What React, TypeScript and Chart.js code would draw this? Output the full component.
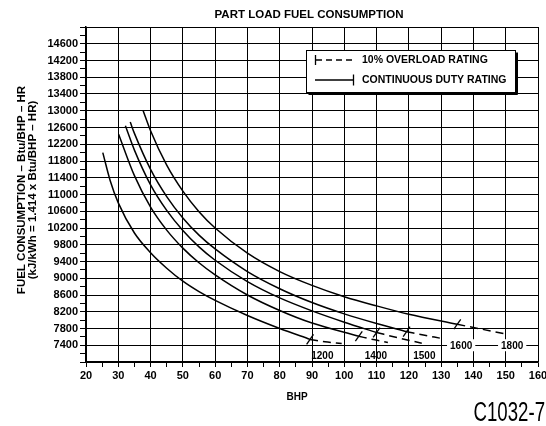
import React, { useEffect, useRef } from "react";
import { Chart, registerables } from "chart.js";
Chart.register(...registerables);

const FONT = '"Liberation Sans", Arial, Helvetica, sans-serif';

const titleText = "PART LOAD FUEL CONSUMPTION";
const yTitle1 = "FUEL CONSUMPTION \u2013 Btu/BHP \u2013 HR";
const yTitle2 = "(kJ/kWh = 1.414 x Btu/BHP \u2013 HR)";
const xTitle = "BHP";
const figureCode = "C1032-7";
const legendOverload = "10% OVERLOAD RATING";
const legendContinuous = "CONTINUOUS DUTY RATING";

// x axis
const xMin = 20;
const xMax = 160;
// y axis
const yMin = 7000;
const yMax = 15000;

// RPM curves: continuous duty (solid) part
const bhp1200 = [25.2, 27.5, 30, 35, 40, 45, 50, 55, 60, 70, 80, 89.4];
const fuel1200 = [12000, 11330, 10800, 10080, 9610, 9240, 8930, 8680, 8470, 8110, 7800, 7540];
const bhp1400 = [30.1, 35, 40, 45, 50, 55, 60, 70, 80, 90, 104.5];
const fuel1400 = [12440, 11450, 10700, 10150, 9720, 9370, 9080, 8600, 8230, 7930, 7615];
const bhp1500 = [32.2, 35, 40, 45, 50, 55, 60, 70, 80, 90, 100, 110];
const fuel1500 = [12640, 12060, 11230, 10620, 10140, 9750, 9430, 8920, 8530, 8220, 7950, 7705];
const bhp1600 = [33.7, 35, 40, 45, 50, 55, 60, 70, 80, 90, 100, 110, 119.3];
const fuel1600 = [12730, 12460, 11600, 10950, 10440, 10030, 9700, 9160, 8750, 8420, 8150, 7920, 7725];
const bhp1800 = [37.7, 40, 45, 50, 55, 60, 70, 80, 90, 100, 110, 120, 135];
const fuel1800 = [13000, 12521, 11700, 11080, 10590, 10200, 9600, 9160, 8830, 8560, 8340, 8140, 7900];

// 10% overload (dashed) part
const ovBhp1200 = [89.4, 94, 99.2];
const ovFuel1200 = [7540, 7485, 7440];
const ovBhp1400 = [104.5, 109, 113.5];
const ovFuel1400 = [7615, 7535, 7467];
const ovBhp1500 = [110, 117, 124];
const ovFuel1500 = [7705, 7570, 7450];
const ovBhp1600 = [119.3, 124.5, 129.6];
const ovFuel1600 = [7725, 7645, 7570];
const ovBhp1800 = [135, 142.5, 150];
const ovFuel1800 = [7900, 7785, 7670];

// continuous duty rating marks
const markBhp = [89.4, 104.5, 110, 119.3, 135];
const markFuel = [7540, 7615, 7705, 7725, 7900];

// curve labels
const rpmLabels = ["1200", "1400", "1500", "1600", "1800"];
const rpmLabelBhp = [93.2, 109.8, 124.8, 136.2, 152];
const rpmLabelFuel = [7150, 7150, 7150, 7400, 7400];
const rpmLabelBoxed = [false, false, false, true, true];

const pts = (xs: number[], ys: number[]) => xs.map((x, i) => ({ x, y: ys[i] }));

const solidSets = [
  [bhp1200, fuel1200],
  [bhp1400, fuel1400],
  [bhp1500, fuel1500],
  [bhp1600, fuel1600],
  [bhp1800, fuel1800],
];
const dashSets = [
  [ovBhp1200, ovFuel1200],
  [ovBhp1400, ovFuel1400],
  [ovBhp1500, ovFuel1500],
  [ovBhp1600, ovFuel1600],
  [ovBhp1800, ovFuel1800],
];

const extras = {
  id: "extras",
  afterDatasetsDraw(chart: any) {
    const { ctx, chartArea, scales } = chart;
    const xs = scales.x;
    const ys = scales.y;
    ctx.save();
    ctx.fillStyle = "#000";
    ctx.strokeStyle = "#000";

    // curve labels
    ctx.font = `bold 10px ${FONT}`;
    ctx.textAlign = "center";
    ctx.textBaseline = "middle";
    rpmLabels.forEach((t, i) => {
      const px = xs.getPixelForValue(rpmLabelBhp[i]);
      const py = ys.getPixelForValue(rpmLabelFuel[i]);
      if (rpmLabelBoxed[i]) {
        const w = ctx.measureText(t).width;
        ctx.fillStyle = "#fff";
        ctx.fillRect(px - w / 2 - 3, py - 6, w + 6, 12);
        ctx.fillStyle = "#000";
      }
      ctx.fillText(t, px, py + 0.5);
    });

    // legend box
    const bx = 306.5, by = 50.5, bw = 209, bh = 42;
    ctx.fillStyle = "#000";
    ctx.fillRect(bx + 2, by + bh, bw, 2.5);
    ctx.fillRect(bx + bw, by + 2, 2.5, bh);
    ctx.fillStyle = "#fff";
    ctx.fillRect(bx, by, bw, bh);
    ctx.lineWidth = 1;
    ctx.strokeRect(bx, by, bw, bh);
    ctx.lineWidth = 1.3;
    // overload sample
    ctx.beginPath();
    ctx.moveTo(315.5, 55);
    ctx.lineTo(315.5, 65);
    ctx.stroke();
    ctx.setLineDash([6, 4]);
    ctx.beginPath();
    ctx.moveTo(316, 60);
    ctx.lineTo(354, 60);
    ctx.stroke();
    ctx.setLineDash([]);
    // continuous sample
    ctx.beginPath();
    ctx.moveTo(315, 80);
    ctx.lineTo(353, 80);
    ctx.stroke();
    ctx.beginPath();
    ctx.moveTo(353.5, 74.5);
    ctx.lineTo(353.5, 85.5);
    ctx.stroke();
    ctx.fillStyle = "#000";
    ctx.font = `bold 10.5px ${FONT}`;
    ctx.textAlign = "left";
    ctx.fillText(legendOverload, 362, 60.5);
    ctx.fillText(legendContinuous, 362, 80.5);

    // title
    ctx.font = `bold 11.5px ${FONT}`;
    ctx.textAlign = "center";
    ctx.fillText(titleText, (chartArea.left + chartArea.right) / 2 - 3, 14.5);

    // y title
    ctx.save();
    ctx.translate(21.5, 190);
    ctx.rotate(-Math.PI / 2);
    ctx.fillText(yTitle1, 0, 0);
    ctx.fillText(yTitle2, 0, 11.5);
    ctx.restore();

    // x title
    ctx.font = `bold 10px ${FONT}`;
    ctx.fillText(xTitle, 297, 397);

    // figure code
    ctx.save();
    ctx.font = `27px ${FONT}`;
    ctx.textAlign = "right";
    ctx.textBaseline = "alphabetic";
    ctx.translate(545, 421);
    ctx.scale(0.69, 1);
    ctx.fillText(figureCode, 0, 0);
    ctx.restore();

    ctx.restore();
  },
};

export default function App() {
  const ref = useRef<HTMLCanvasElement | null>(null);
  useEffect(() => {
    if (!ref.current) return;
    const datasets: any[] = [];
    solidSets.forEach(([xs, ys]) =>
      datasets.push({
        type: "line",
        data: pts(xs, ys),
        borderColor: "#000",
        borderWidth: 1.5,
        pointRadius: 0,
        fill: false,
        cubicInterpolationMode: "monotone",
      })
    );
    dashSets.forEach(([xs, ys]) =>
      datasets.push({
        type: "line",
        data: pts(xs, ys),
        borderColor: "#000",
        borderWidth: 1.5,
        borderDash: [8, 5],
        pointRadius: 0,
        fill: false,
        cubicInterpolationMode: "monotone",
      })
    );
    datasets.push({
      type: "scatter",
      data: pts(markBhp, markFuel),
      showLine: false,
      pointStyle: "line",
      pointRadius: 6,
      pointRotation: -55,
      borderColor: "#000",
      pointBorderColor: "#000",
      pointBorderWidth: 1.3,
      borderWidth: 1.3,
    });

    const chart = new Chart(ref.current, {
      type: "line",
      data: { datasets },
      plugins: [extras],
      options: {
        responsive: false,
        maintainAspectRatio: false,
        animation: false,
        devicePixelRatio: 1,
        layout: { padding: { top: 27, right: 8, left: 0, bottom: 0 } },
        plugins: {
          legend: { display: false },
          tooltip: { enabled: false },
          title: { display: false },
        },
        scales: {
          x: {
            type: "linear",
            min: xMin,
            max: xMax,
            afterFit: (s: any) => {
              s.height = 64;
              s.paddingLeft = 0;
              s.paddingRight = 0;
            },
            ticks: {
              stepSize: 5,
              autoSkip: false,
              maxRotation: 0,
              color: "#000",
              padding: 2,
              font: { family: FONT, size: 11, weight: "bold" },
              callback: (v: any) => (Number(v) % 10 === 0 ? String(v) : ""),
            },
            grid: {
              color: (c: any) =>
                c.tick && c.tick.value % 10 === 0 ? "#000" : "rgba(0,0,0,0)",
              lineWidth: 1,
              tickLength: 5,
              tickColor: "#000",
            },
            border: { color: "#000", width: 1.5 },
          },
          y: {
            type: "linear",
            min: yMin,
            max: yMax,
            afterFit: (s: any) => {
              s.width = 86;
              s.paddingTop = 0;
              s.paddingBottom = 0;
            },
            ticks: {
              stepSize: 200,
              autoSkip: false,
              color: "#000",
              padding: 2,
              font: { family: FONT, size: 11, weight: "bold" },
              callback: (v: any) => {
                const n = Number(v);
                return n >= 7400 && n <= 14600 && (n - 7000) % 400 === 0 ? String(n) : "";
              },
            },
            grid: {
              color: (c: any) =>
                c.tick && (c.tick.value - 7000) % 400 === 0 ? "#000" : "rgba(0,0,0,0)",
              lineWidth: 1,
              tickLength: 6,
              tickColor: "#000",
            },
            border: { color: "#000", width: 1.5 },
          },
        },
      } as any,
    });
    return () => chart.destroy();
  }, []);
  return (
    <div style={{ position: "absolute", left: 0, top: 0, width: 546, height: 426, background: "#fff" }}>
      <canvas ref={ref} width={546} height={426} style={{ display: "block" }} />
    </div>
  );
}
